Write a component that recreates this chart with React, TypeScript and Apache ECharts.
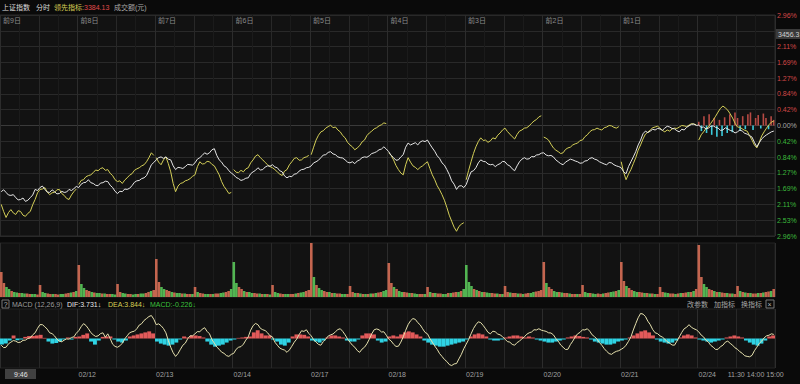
import React, { useEffect, useRef } from "react";
import * as echarts from "echarts";

// ---------- data ----------
const DATES = ["02/11", "02/12", "02/13", "02/14", "02/17", "02/18", "02/19", "02/20", "02/21", "02/24"];
const DAY_TAGS = ["前9日", "前8日", "前7日", "前6日", "前5日", "前4日", "前3日", "前2日", "前1日", ""];
const TIME_LABELS = ["11:30", "14:00", "15:00"];
const CURSOR_TIME = "9:46";
const CURSOR_PRICE = "3456.3";
const PCT_STEP = 0.4223; // percent between right-axis ticks

// 上证指数, percent vs previous close, 32 samples per day
const WHITE = [
  [-1.77, -1.72, -1.79, -1.86, -1.87, -1.85, -1.93, -1.99, -1.98, -1.94, -2.03, -2.0, -1.93, -1.86, -1.71, -1.74, -1.66, -1.62, -1.71, -1.78, -1.79, -1.72, -1.77, -1.83, -1.82, -1.76, -1.79, -1.78, -1.71, -1.74, -1.69, -1.63],
  [-1.66, -1.57, -1.53, -1.52, -1.45, -1.53, -1.55, -1.6, -1.61, -1.54, -1.53, -1.49, -1.5, -1.6, -1.66, -1.76, -1.82, -1.76, -1.77, -1.7, -1.71, -1.68, -1.61, -1.52, -1.48, -1.47, -1.42, -1.4, -1.34, -1.2, -1.05, -0.99],
  [-0.92, -0.86, -0.84, -0.88, -0.84, -0.9, -0.92, -1.08, -1.18, -1.12, -1.13, -1.15, -1.1, -1.04, -1.05, -1.06, -1.0, -0.9, -0.86, -0.8, -0.73, -0.77, -0.73, -0.65, -0.62, -0.8, -0.92, -0.98, -1.08, -1.12, -1.21, -1.27],
  [-1.32, -1.39, -1.42, -1.47, -1.45, -1.41, -1.4, -1.29, -1.24, -1.2, -1.13, -1.19, -1.18, -1.11, -1.08, -1.09, -1.05, -1.11, -1.13, -1.21, -1.24, -1.35, -1.4, -1.36, -1.37, -1.3, -1.29, -1.22, -1.18, -1.17, -1.13, -1.12],
  [-1.08, -1.0, -0.97, -0.93, -0.86, -0.79, -0.78, -0.72, -0.7, -0.76, -0.78, -0.84, -0.86, -0.87, -0.92, -0.98, -1.0, -0.97, -1.02, -0.95, -0.92, -0.86, -0.84, -0.85, -0.81, -0.75, -0.73, -0.7, -0.65, -0.63, -0.57, -0.63],
  [-0.7, -0.8, -0.86, -0.93, -0.92, -0.84, -0.78, -0.58, -0.47, -0.52, -0.49, -0.46, -0.52, -0.44, -0.41, -0.43, -0.39, -0.5, -0.6, -0.69, -0.81, -0.88, -1.0, -1.06, -1.18, -1.31, -1.48, -1.57, -1.71, -1.62, -1.61, -1.66],
  [-1.58, -1.4, -1.24, -1.21, -1.13, -1.0, -0.92, -0.96, -0.97, -1.03, -1.05, -1.04, -1.1, -1.05, -1.02, -0.96, -0.97, -1.05, -1.08, -1.16, -1.21, -1.08, -0.97, -0.9, -0.86, -0.9, -0.89, -0.83, -0.84, -0.79, -0.78, -0.74],
  [-0.73, -0.79, -0.81, -0.8, -0.84, -0.92, -0.97, -1.02, -1.05, -0.98, -0.94, -0.9, -0.92, -0.95, -0.97, -1.01, -1.0, -0.95, -0.94, -0.88, -0.86, -0.9, -0.92, -0.97, -1.0, -1.03, -1.05, -0.99, -1.0, -1.05, -1.08, -1.1],
  [-1.13, -1.24, -1.29, -1.1, -0.97, -0.84, -0.7, -0.52, -0.39, -0.22, -0.15, -0.19, -0.15, -0.1, -0.12, -0.08, -0.09, -0.13, -0.07, -0.02, -0.04, -0.08, -0.09, -0.14, -0.17, -0.1, -0.12, -0.05, -0.01, 0.03, 0.04, 0.0],
  [0.01, -0.05, -0.04, -0.09, -0.07, -0.02, -0.01, -0.05, -0.07, -0.13, -0.12, -0.06, -0.09, -0.13, -0.15, -0.2, -0.17, -0.12, -0.15, -0.21, -0.23, -0.27, -0.31, -0.45, -0.57, -0.46, -0.36, -0.3, -0.25, -0.21, -0.17, -0.15],
];

// 领先指标, percent, 32 samples per day (drawn per day)
const YELLOW = [
  [-2.11, -2.3, -2.46, -2.33, -2.25, -2.34, -2.38, -2.28, -2.3, -2.4, -2.43, -2.35, -2.3, -2.12, -1.98, -1.8, -1.71, -1.7, -1.66, -1.78, -1.85, -1.8, -1.79, -1.72, -1.71, -1.82, -1.87, -1.95, -1.98, -1.86, -1.77, -1.7],
  [-1.58, -1.47, -1.45, -1.37, -1.34, -1.32, -1.26, -1.19, -1.21, -1.15, -1.13, -1.2, -1.18, -1.28, -1.34, -1.45, -1.5, -1.48, -1.55, -1.46, -1.4, -1.33, -1.29, -1.2, -1.16, -1.13, -1.08, -1.05, -0.97, -0.86, -0.73, -0.8],
  [-0.86, -0.98, -1.05, -0.92, -0.84, -1.02, -1.24, -1.55, -1.77, -1.62, -1.55, -1.53, -1.48, -1.46, -1.42, -1.36, -1.32, -1.1, -0.97, -1.03, -1.02, -0.96, -0.97, -1.04, -1.08, -1.2, -1.32, -1.5, -1.63, -1.72, -1.82, -1.79],
  [-1.18, -1.25, -1.26, -1.2, -1.24, -1.16, -1.13, -1.0, -0.92, -0.82, -0.78, -0.86, -0.92, -0.99, -1.05, -1.1, -1.13, -1.18, -1.24, -1.3, -1.34, -1.22, -1.18, -1.05, -0.97, -0.88, -0.86, -0.93, -0.92, -0.86, -0.84, -0.8],
  [-0.78, -0.58, -0.39, -0.26, -0.17, -0.14, -0.07, -0.03, 0.01, -0.06, -0.04, -0.12, -0.17, -0.27, -0.33, -0.45, -0.52, -0.57, -0.65, -0.6, -0.54, -0.44, -0.39, -0.27, -0.2, -0.15, -0.09, -0.06, -0.01, 0.02, 0.07, 0.05],
  [-0.73, -0.8, -0.92, -1.07, -1.18, -1.27, -1.32, -1.05, -0.86, -0.98, -1.08, -1.12, -1.18, -1.12, -1.08, -1.02, -0.97, -1.15, -1.32, -1.45, -1.61, -1.72, -1.85, -2.0, -2.19, -2.4, -2.56, -2.72, -2.83, -2.7, -2.64, -2.6],
  [-1.45, -1.2, -0.97, -0.75, -0.57, -0.43, -0.33, -0.4, -0.39, -0.45, -0.41, -0.33, -0.36, -0.26, -0.2, -0.12, -0.07, -0.16, -0.23, -0.3, -0.36, -0.24, -0.15, -0.12, -0.07, -0.06, -0.01, 0.06, 0.12, 0.16, 0.23, 0.26],
  [-0.31, -0.34, -0.39, -0.5, -0.6, -0.66, -0.7, -0.75, -0.73, -0.64, -0.6, -0.58, -0.52, -0.49, -0.47, -0.4, -0.39, -0.3, -0.25, -0.17, -0.12, -0.11, -0.07, -0.1, -0.12, -0.06, -0.04, 0.0, -0.01, -0.05, -0.07, -0.03],
  [-0.97, -1.25, -1.45, -1.3, -1.18, -1.02, -0.86, -0.66, -0.52, -0.36, -0.23, -0.18, -0.12, -0.06, -0.04, -0.02, -0.07, -0.13, -0.17, -0.12, -0.15, -0.09, -0.07, -0.08, -0.04, 0.0, -0.01, -0.03, 0.01, 0.05, 0.04, 0.02],
  [-0.39, -0.25, -0.17, -0.08, -0.04, 0.06, 0.15, 0.25, 0.36, 0.46, 0.52, 0.47, 0.41, 0.31, 0.2, 0.06, -0.04, -0.05, -0.09, -0.13, -0.15, -0.27, -0.39, -0.52, -0.6, -0.45, -0.28, -0.17, -0.07, 0.02, 0.09, 0.12],
];

// today's buy/sell strength bars (percent scale), 30 per day
const STRENGTH = [
  0.1, -0.15, 0.25, -0.2, 0.3, -0.25, 0.2, -0.3, 0.15, -0.28, 0.22, -0.2, 0.3, -0.18, 0.35,
  0.2, -0.15, 0.25, -0.1, 0.3, 0.35, -0.12, 0.2, 0.28, -0.08, 0.32, 0.2, -0.1, 0.25, 0.15,
];

// turnover, signed: + up (red), - down (green), 30 bars per day
const VOLUME = [
  [25, 14, -10, -8, 6, -5, -4.5, 4, -4, -3.5, 3.5, 3, -3, -3, 2.5, 12, -5, -4, 3.5, 3, -3, 3, 2.5, -3, -3, 3.5, 4, -4.5, 5, -6],
  [32, -13, -9, 7, 6, -5, 4.5, -4, -4, 3.5, -3.5, 3, 3, -3, -2.5, 13, 5, -4, -3.5, 3, 3, -2.5, -3, 3, -3.5, -3.5, 4, 5, -6, 7],
  [38, 15, -10, -8, 7, 6, -5, 4.5, -4, -4, 3.5, -3.5, 3, 3, -3, 10, -5, 4, 3.5, -3, -3, 3, -3, 3.5, 3.5, -4, -4.5, 5, 6, -8],
  [-35, -14, 10, 8, -6, 5, -5, -4, 4, 3.5, -3.5, 3, -3, 3, -2.5, 12, -5, -4, 3.5, 3, -3, -3, 3, 3, -3.5, 4, -4.5, -5, 6, 7],
  [54, -20, 12, -9, -7, 6, 5, -5, 4, -4, 3.5, 3.5, -3, -3, 3, 11, 5, -4, 4, -3.5, 3, -3, 3, -3.5, 3.5, -4, 4.5, 5, -6, -7],
  [34, 14, -10, 8, -6, -5, 5, 4.5, -4, 4, -3.5, -3, 3, 3, -3, 10, -5, 4, -4, 3.5, 3.5, -3, -3, 4, -4, 4.5, 5, -5, 6, -8],
  [-32, -15, -11, 8, -7, 6, -5, 5, -4.5, -4, 4, 3.5, -3.5, 3, -3, 11, 5, -4.5, 4, 4, -3.5, 3.5, -3, 3.5, 4, -4, -5, 5.5, 6, 7],
  [35, -14, 10, 8, -6, -5, 5, -4.5, 4, 4, -3.5, 3, 3, -3, 3, 12, -5, -4, 4, -3.5, -3, 3.5, 3, -3.5, 4, 4.5, -5, -5.5, 6, -7],
  [35, 16, -11, 9, 7, -6, -5, 5, 4.5, -4, 4, -3.5, 3.5, -3, 3, 10, 5, -4.5, -4, 3.5, 3.5, -3, 3.5, -4, 4, 4.5, -5, 5, -6, 8],
  [52, 20, -13, -10, 8, 7, -6, 5, -5, 4.5, 4, -4, 3.5, -3.5, 3, 11, -6, 5, -4.5, 4, -4, 3.5, 3.5, -4, 4, -4.5, 5, 5.5, -6, 8],
];

// MACD histogram, 20 per day
const MACD_BAR = [
  [-3, -2.5, -1, 1.5, -0.8, -0.5, 0.8, 1.2, 1.2, 1.5, 1.8, 0.3, -1.5, -2.5, -2.2, -1.5, -0.5, 0.5, -0.5, 0.8],
  [1, 1.8, 2.5, -1.5, -3, -1, 0.8, 1, 1, -0.5, -1.5, -2, -1, 1, 1.5, 2, 2.5, 3, 3.5, 2.5],
  [-1.5, -2.5, -3, -3.5, -3, -2, -0.5, 1, 0.5, 1.5, 1.5, 1.2, 0.5, -1.5, -3, -4, -3.5, -3, -2, -1],
  [-0.5, 0.3, 0.5, 0.8, 1, 3, 4, 2.5, 1.5, 1.5, -0.5, -1.5, -3, -3.5, -2, 1, 2, 2, 1.8, 1],
  [-1, -1.5, -2, -1, 0.5, 1.5, 1.5, 1, 0.5, -1, -1.5, -1.5, -0.5, 1.5, 2.5, 2.5, 2, -1, -2, -1.5],
  [1, 1.5, 1, 2, 3, 3.5, 3, 2, 1, -1, -2, -3, -3.5, -4, -4, -3.5, -3, -2.5, -2, -1.5],
  [-0.5, 1, 2, 2.5, 2, 1, -0.5, -1, -1, -0.5, 0.5, 1, 1.5, 1.5, 1, 0.5, 1, 0.5, -0.5, -1],
  [-1.5, -2, -2, -1.5, -1, -0.5, 0.5, 1, 1.5, 1.2, 0.8, 0.5, -0.5, -1.5, -2, -2.5, -3, -3, -2.5, -1.5],
  [-1, -0.5, 0.5, 1.5, 2.5, 3.5, 4, 3, 1.5, -0.5, -1.5, -2, -2.5, -2, -1, 0.5, 1.5, 2, 1.5, 0.5],
  [-0.5, -1, -1.5, -2, -1.5, -1, -0.5, 0.5, 1, 1.5, 1, 0.5, -1, -2, -3, -3.5, -2.5, -1, 1, 1.5],
];

// DIF line, 32 per day
const MACD_DIF = [
  [-3.3, -4.5, -4.3, -2.6, -1.8, -1.0, -1.3, -2.0, -1.8, -0.9, -0.8, 0.0, 0.3, 1.8, 2.8, 5.0, 6.8, 6.8, 5.8, 4.6, 2.8, 2.4, 1.3, -0.3, -1.3, -1.6, -0.8, -0.2, -0.3, 0.5, 0.8, 2.6],
  [3.8, 5.8, 7.3, 6.4, 4.8, 2.9, 1.8, 1.0, 1.3, 2.4, 2.8, 0.6, 2.3, 0.0, -2.8, -3.9, -4.3, -3.6, -2.3, -0.2, 1.3, 2.8, 3.3, 3.6, 4.8, 6.6, 7.3, 8.9, 9.8, 10.8, 11.3, 9.5],
  [6.8, 7.2, 6.3, 4.9, 2.8, -1.0, -4.3, -7.0, -8.8, -7.4, -5.3, -3.3, -2.3, -0.1, 1.3, 1.3, 2.3, 3.4, 3.3, 4.6, 5.3, 3.5, 2.3, -0.5, -2.3, -4.2, -5.3, -6.7, -7.3, -8.4, -8.8, -7.8],
  [-7.3, -5.3, -4.3, -4.0, -2.8, -0.8, 0.8, 4.1, 6.3, 7.4, 6.8, 5.0, 4.3, 3.9, 2.8, 1.3, 0.8, -1.8, -3.3, -4.7, -5.3, -5.7, -6.8, -5.6, -3.8, -1.8, -0.3, 1.9, 3.8, 3.5, 4.3, 2.5],
  [1.3, -0.6, -1.8, -2.9, -3.3, -1.5, -0.3, 1.2, 1.8, 2.2, 3.3, 4.4, 4.8, 3.5, 1.8, -0.2, -1.8, -3.3, -4.3, -5.9, -6.8, -5.2, -4.3, -2.6, -0.3, 2.3, 4.3, 4.7, 4.3, 3.2, 3.3, 1.6],
  [-0.3, -1.2, -2.8, -3.9, -3.8, -1.8, 0.8, 4.0, 6.8, 8.7, 9.8, 9.4, 7.8, 6.7, 4.8, 3.0, 2.3, 0.0, -1.8, -3.7, -5.3, -7.4, -8.8, -10.3, -11.3, -12.8, -13.3, -12.5, -12.3, -10.0, -7.8, -5.0],
  [-2.8, -0.5, 2.3, 4.9, 6.8, 8.2, 7.8, 6.4, 4.8, 3.0, 2.3, 3.6, 3.3, 2.2, 1.8, 0.9, -0.3, -1.5, -1.8, -2.9, -3.3, -2.0, -1.3, -0.1, 0.8, 2.1, 2.8, 3.2, 4.3, 4.2, 4.8, 4.1],
  [3.8, 3.5, 2.8, 2.7, 1.8, 0.0, -1.3, -3.2, -4.3, -5.4, -5.3, -3.0, -1.3, 0.8, 2.3, 3.0, 4.3, 4.2, 4.8, 3.6, 1.8, 0.9, -0.3, -2.0, -3.3, -5.0, -6.3, -7.4, -7.8, -6.9, -6.3, -6.0],
  [-5.3, -4.6, -3.3, -1.4, 0.8, 4.2, 7.3, 10.2, 12.3, 12.0, 10.8, 8.5, 6.8, 4.4, 2.8, 2.4, 1.3, 0.7, -0.3, -1.6, -2.3, -3.2, -3.3, -1.3, 0.8, 3.0, 4.8, 5.5, 6.8, 5.5, 4.8, 4.3],
  [3.3, 1.7, 0.8, -0.8, -1.8, -3.4, -4.3, -5.4, -5.3, -4.0, -3.3, -1.8, -1.3, -2.4, -3.3, -4.6, -5.3, -6.5, -7.3, -8.5, -8.8, -9.0, -8.3, -6.0, -4.3, -2.4, -1.3, 0.3, 1.3, 1.6, 2.3, 2.0],
];

// ---------- styling ----------
const FONT = '"Liberation Sans", "Noto Sans CJK SC", sans-serif';
const GRID_LINE = ["#2c2c2c", "#1b1b1b", "#282828", "#1b1b1b"];

const sessionFraction = (t: string) => {
  const [h, m] = t.split(":").map(Number);
  const mins = h * 60 + m;
  const morning = Math.min(Math.max(mins - (9 * 60 + 30), 0), 120);
  const afternoon = Math.min(Math.max(mins - 13 * 60, 0), 120);
  return (morning + afternoon) / 240;
};

const LAST = DATES.length - 1;
const perDay = (rows: number[][]) =>
  rows.flatMap((vals, d) => vals.map((v, j) => [d + (j + 0.5) / vals.length, v]));

function buildOption() {
  const whiteData = perDay(WHITE);
  const yellowSeries = YELLOW.map((vals, d) => ({
    type: "line",
    xAxisIndex: 0,
    yAxisIndex: 0,
    data: vals.map((v, j) => [d + (j + 0.5) / vals.length, v]),
    showSymbol: false,
    silent: true,
    lineStyle: { color: "#d4cf58", width: 1 },
    z: 4,
  }));
  const strength = STRENGTH.map((v, j) => ({
    value: [LAST + (j + 0.5) / STRENGTH.length, v],
    itemStyle: { color: v >= 0 ? "#b64a44" : "#3ccbdc" },
  }));
  const vol = VOLUME.flatMap((vals, d) =>
    vals.map((v, j) => ({
      value: [d + (j + 0.5) / vals.length, Math.abs(v)],
      itemStyle: { color: v >= 0 ? "#c4654f" : "#52b552" },
    }))
  );
  const macdBar = MACD_BAR.flatMap((vals, d) =>
    vals.map((v, j) => ({
      value: [d + (j + 0.5) / vals.length, v],
      itemStyle: { color: v >= 0 ? "#e25a5a" : "#2fd3e4" },
    }))
  );
  const macdLine = perDay(MACD_DIF);

  const gridX = (gridIndex: number) => ({
    type: "value",
    gridIndex,
    min: 0,
    max: DATES.length,
    interval: 0.25,
    axisLine: { show: false },
    axisTick: { show: false },
    axisLabel: { show: false },
    splitLine: { show: true, lineStyle: { color: GRID_LINE, width: 1 } },
  });

  const zeroIdx = 7;
  const hColors = Array.from({ length: 15 }, (_, i) => (i === zeroIdx ? "#3a3a3a" : "#292929"));

  const txt = (x: number, y: number, text: string, fill: string, extra: any = {}) => ({
    type: "text",
    x,
    y,
    z: 100,
    style: { text, fill, font: `7px ${FONT}`, verticalAlign: "middle", textVerticalAlign: "middle", ...extra },
  });

  return {
    animation: false,
    backgroundColor: "#0a0a0a",
    textStyle: { fontFamily: FONT },
    grid: [
      { left: 0, top: 15, width: 775, height: 221, show: true, backgroundColor: "#121212", borderColor: "#2a2a2a", borderWidth: 1 },
      { left: 0, top: 243, width: 775, height: 54, show: true, backgroundColor: "#121212", borderColor: "#222", borderWidth: 1 },
      { left: 0, top: 309, width: 775, height: 59, show: true, backgroundColor: "#121212", borderColor: "#222", borderWidth: 1 },
    ],
    xAxis: [
      gridX(0),
      {
        type: "value",
        gridIndex: 0,
        position: "top",
        min: 0,
        max: DATES.length,
        interval: 1,
        axisLine: { show: false },
        axisTick: { show: false },
        splitLine: { show: false },
        axisLabel: {
          inside: true,
          margin: 2,
          align: "left",
          fontSize: 7,
          color: "#8a8a8a",
          padding: [0, 0, 0, 3],
          showMaxLabel: false,
          formatter: (v: number) => DAY_TAGS[Math.round(v)] ?? "",
        },
      },
      gridX(1),
      {
        ...gridX(2),
        position: "bottom",
        axisLabel: {
          show: true,
          // first date sits under the cursor time box
          customValues: DATES.map((_, i) => i).slice(1),
          formatter: (v: number) => DATES[Math.round(v)] ?? "",
          align: "left",
          margin: 3,
          fontSize: 7,
          color: "#a0a0a0",
          padding: [0, 0, 0, 1],
        },
      },
      {
        type: "value",
        gridIndex: 2,
        position: "bottom",
        min: 0,
        max: DATES.length,
        axisLine: { show: false },
        axisTick: { show: false },
        splitLine: { show: false },
        axisLabel: {
          show: true,
          customValues: TIME_LABELS.map((t) => LAST + sessionFraction(t)),
          formatter: (v: number) => {
            const i = TIME_LABELS.findIndex((t) => Math.abs(LAST + sessionFraction(t) - v) < 1e-6);
            return i >= 0 ? TIME_LABELS[i] : "";
          },
          align: "center",
          margin: 3,
          fontSize: 7,
          color: "#a0a0a0",
        },
      },
    ],
    yAxis: [
      {
        type: "value",
        gridIndex: 0,
        position: "right",
        min: -7 * PCT_STEP,
        max: 7 * PCT_STEP,
        interval: PCT_STEP,
        axisLine: { show: false },
        axisTick: { show: false },
        axisLabel: {
          margin: 2,
          fontSize: 7,
          // the 2nd label from the top sits under the cursor price box
          formatter: (v: number) => (Math.abs(v - 6 * PCT_STEP) < 1e-6 ? "" : Math.abs(v).toFixed(2) + "%"),
          color: (v: any) => {
            const n = Number(v);
            return n > 1e-6 ? "#d24848" : n < -1e-6 ? "#3cb83c" : "#a8a8a8";
          },
        },
        splitLine: { show: true, lineStyle: { color: hColors, width: 1 } },
      },
      { type: "value", gridIndex: 1, min: 0, max: 54, axisLabel: { show: false }, axisLine: { show: false }, axisTick: { show: false }, splitLine: { show: false } },
      { type: "value", gridIndex: 2, min: -14.5, max: 14.5, axisLabel: { show: false }, axisLine: { show: false }, axisTick: { show: false }, splitLine: { show: false } },
    ],
    series: [
      { type: "bar", xAxisIndex: 0, yAxisIndex: 0, data: strength, barWidth: 1.6, silent: true, z: 3 },
      ...yellowSeries,
      {
        type: "line",
        name: "上证指数",
        xAxisIndex: 0,
        yAxisIndex: 0,
        data: whiteData,
        showSymbol: false,
        silent: true,
        lineStyle: { color: "#e6e6e6", width: 1 },
        z: 5,
      },
      { type: "bar", xAxisIndex: 2, yAxisIndex: 1, data: vol, barWidth: 2.6, silent: true },
      { type: "bar", xAxisIndex: 3, yAxisIndex: 2, data: macdBar, barWidth: 3.9, silent: true },
      {
        type: "line",
        xAxisIndex: 3,
        yAxisIndex: 2,
        data: macdLine,
        showSymbol: false,
        silent: true,
        lineStyle: { color: "#e6e1ae", width: 1 },
        z: 5,
      },
    ],
    graphic: [
      txt(2, 7, "上证指数", "#dcdcdc"),
      txt(36, 7, "分时", "#dcdcdc"),
      txt(54, 7, "领先指标:", "#d8cf55"),
      txt(84, 7, "3384.13", "#e04a4a"),
      txt(114, 7, "成交额(元)", "#a8a8a8"),
      { type: "rect", z: 100, shape: { x: 2, y: 300, width: 7, height: 8 }, style: { fill: "none", stroke: "#777", lineWidth: 1 } },
      txt(3.8, 304, "?", "#bbbbbb"),
      txt(12, 304, "MACD (12,26,9)", "#9c9c9c"),
      txt(67, 304, "DIF:3.731↓", "#e8e8e8"),
      txt(108, 304, "DEA:3.844↓", "#d8cf55"),
      txt(150, 304, "MACD:-0.226↓", "#3cc03c"),
      txt(687, 304, "改参数", "#a8a8a8"),
      txt(714, 304, "加指标", "#a8a8a8"),
      txt(741, 304, "换指标", "#a8a8a8"),
      { type: "rect", z: 100, shape: { x: 766, y: 300, width: 8, height: 8 }, style: { fill: "none", stroke: "#777", lineWidth: 1 } },
      txt(767.5, 304, "×", "#bbbbbb"),
      { type: "rect", z: 100, shape: { x: 776, y: 29, width: 24, height: 10 }, style: { fill: "#3a3a3a" } },
      txt(778, 34, CURSOR_PRICE, "#d0d0d0"),
      { type: "rect", z: 100, shape: { x: 5, y: 369, width: 31, height: 10 }, style: { fill: "#404040" } },
      txt(14, 374, CURSOR_TIME, "#e4e4e4"),
    ],
  };
}

export default function App() {
  const ref = useRef<HTMLDivElement>(null);
  useEffect(() => {
    if (!ref.current) return;
    const chart = echarts.init(ref.current, undefined, { renderer: "svg" });
    chart.setOption(buildOption() as any);
    return () => chart.dispose();
  }, []);
  return <div ref={ref} style={{ position: "fixed", left: 0, top: 0, width: 800, height: 384 }} />;
}
